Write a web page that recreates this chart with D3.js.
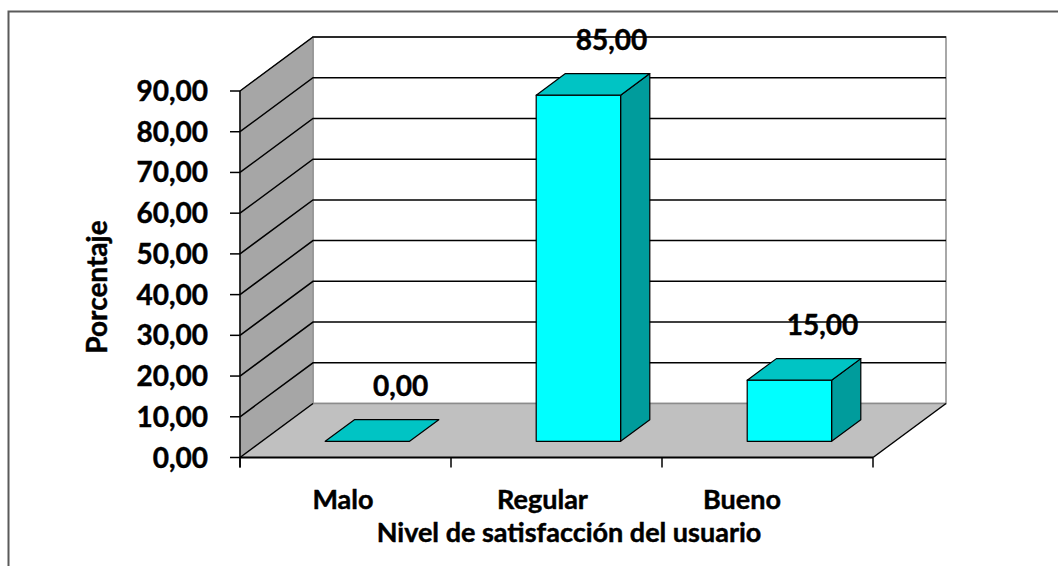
<!DOCTYPE html>
<html>
<head>
<meta charset="utf-8">
<script src="https://cdn.jsdelivr.net/npm/d3@7"></script>
<style>
  html, body { margin: 0; padding: 0; background: #fff; }
  svg { display: block; }
  text { font-family: Lato, "Open Sans", sans-serif; font-weight: 700; fill: #000; stroke: #000; stroke-width: 0.45px; }
</style>
</head>
<body>
<svg id="chart" width="1058" height="566"></svg>
<script>
// Satisfaction levels and their share of respondents (%)
const categories = ["Malo", "Regular", "Bueno"];
const values = [0, 85, 15];
const yTicks = [0, 10, 20, 30, 40, 50, 60, 70, 80, 90];
const yTitle = "Porcentaje";
const xTitle = "Nivel de satisfacción del usuario";

const fmt = v => d3.format(".2f")(v).replace(".", ",");

const svg = d3.select("#chart");

// Front plane of the 3D box
const frontLeft = 240, frontRight = 873;
const depthX = 73, depthY = -54;      // offset from front plane to back wall
const barDepth = [0.3, 0.7];          // bar occupies middle of the depth

const x = d3.scaleBand().domain(categories).range([frontLeft, frontRight]).padding(0);
const y = d3.scaleLinear().domain([0, 90]).range([457.5, 91]);
const barW = x.bandwidth() / 2.5;     // gap width 150%

const P = (px, v, d) => [px + d * depthX, y(v) + d * depthY];
const poly = pts => "M" + pts.map(p => p.join(",")).join("L") + "Z";
const line = pts => "M" + pts.map(p => p.join(",")).join("L");

// Outer chart-area frame
svg.append("rect")
  .attr("x", 8.5).attr("y", 11.5).attr("width", 1100).attr("height", 600)
  .attr("fill", "none").attr("stroke", "#5a5a5a").attr("stroke-width", 2);

const yMax = y.domain()[1];

// Back wall
svg.append("path")
  .attr("d", poly([P(frontLeft, 0, 1), P(frontLeft, yMax, 1), P(frontRight, yMax, 1), P(frontRight, 0, 1)]))
  .attr("fill", "#fff").attr("stroke", "#8c8c8c").attr("stroke-width", 1.5);

// Left side wall
svg.append("path")
  .attr("d", poly([P(frontLeft, 0, 0), P(frontLeft, yMax, 0), P(frontLeft, yMax, 1), P(frontLeft, 0, 1)]))
  .attr("fill", "#a6a6a6").attr("stroke", "#8c8c8c").attr("stroke-width", 1);

// Floor
svg.append("path")
  .attr("d", poly([P(frontLeft, 0, 0), P(frontRight, 0, 0), P(frontRight, 0, 1), P(frontLeft, 0, 1)]))
  .attr("fill", "#c0c0c0").attr("stroke", "none");
svg.append("path")
  .attr("d", line([P(frontLeft, 0, 1), P(frontRight, 0, 1)]))
  .attr("stroke", "#8c8c8c").attr("stroke-width", 1.5);

// Gridlines: diagonal across the side wall, then horizontal along the back wall
const grid = svg.append("g").attr("fill", "none").attr("stroke", "#000").attr("stroke-width", 1.5);
yTicks.filter(v => v > 0).forEach(v => {
  grid.append("path").attr("d", line([P(frontLeft, v, 0), P(frontLeft, v, 1), P(frontRight, v, 1)]));
});
// Floor edges
grid.append("path").attr("d", line([P(frontLeft, 0, 0), P(frontLeft, 0, 1)]));
grid.append("path").attr("d", line([P(frontRight, 0, 0), P(frontRight, 0, 1)]));

// Front axis lines
svg.append("line").attr("x1", frontLeft).attr("x2", frontLeft).attr("y1", y(yMax)).attr("y2", y(0) + 10)
  .attr("stroke", "#000").attr("stroke-width", 1.5);
svg.append("line").attr("x1", frontLeft).attr("x2", frontRight).attr("y1", y(0)).attr("y2", y(0))
  .attr("stroke", "#000").attr("stroke-width", 2);

// Value axis ticks and labels
const yAxis = svg.append("g");
yTicks.forEach(v => {
  yAxis.append("line").attr("x1", frontLeft - 10).attr("x2", frontLeft).attr("y1", y(v)).attr("y2", y(v))
    .attr("stroke", "#000").attr("stroke-width", 1.5);
  yAxis.append("text").attr("x", 208).attr("y", y(v) + 10).attr("text-anchor", "end")
    .style("font-size", "28px").text(fmt(v));
});

// Category ticks
const catEdges = categories.map(c => x(c)).concat([frontRight]);
catEdges.forEach(px => {
  svg.append("line").attr("x1", px).attr("x2", px).attr("y1", y(0)).attr("y2", y(0) + 10)
    .attr("stroke", "#000").attr("stroke-width", 1.5);
});

// Bars as 3D boxes
const bars = svg.append("g").attr("stroke", "#000").attr("stroke-width", 1.2).attr("stroke-linejoin", "round");
categories.forEach((c, i) => {
  const v = values[i];
  const x0 = x(c) + (x.bandwidth() - barW) / 2, x1 = x0 + barW;
  const [d0, d1] = barDepth;
  if (v > 0) {
    // side face
    bars.append("path").attr("fill", "#009c9c")
      .attr("d", poly([P(x1, 0, d0), P(x1, v, d0), P(x1, v, d1), P(x1, 0, d1)]));
    // front face
    bars.append("path").attr("fill", "#00ffff")
      .attr("d", poly([P(x0, 0, d0), P(x0, v, d0), P(x1, v, d0), P(x1, 0, d0)]));
  }
  // top face
  bars.append("path").attr("fill", "#00c4c4")
    .attr("d", poly([P(x0, v, d0), P(x1, v, d0), P(x1, v, d1), P(x0, v, d1)]));

  // value label
  const top = P((x0 + x1) / 2, v, d1);
  svg.append("text").attr("x", top[0] + 4).attr("y", top[1] - 24).attr("text-anchor", "middle")
    .style("font-size", "28px").text(fmt(v));
});

// Category labels
const xl = d3.scalePoint().domain(categories).range([343, 742]);
categories.forEach(c => {
  svg.append("text").attr("x", xl(c)).attr("y", 509).attr("text-anchor", "middle")
    .style("font-size", "27px").text(c);
});

// Axis titles
svg.append("text").attr("x", 569).attr("y", 542).attr("text-anchor", "middle")
  .style("font-size", "27px").text(xTitle);
svg.append("text").attr("transform", "translate(107,287) rotate(-90)").attr("text-anchor", "middle")
  .style("font-size", "28px").text(yTitle);
</script>
</body>
</html>
